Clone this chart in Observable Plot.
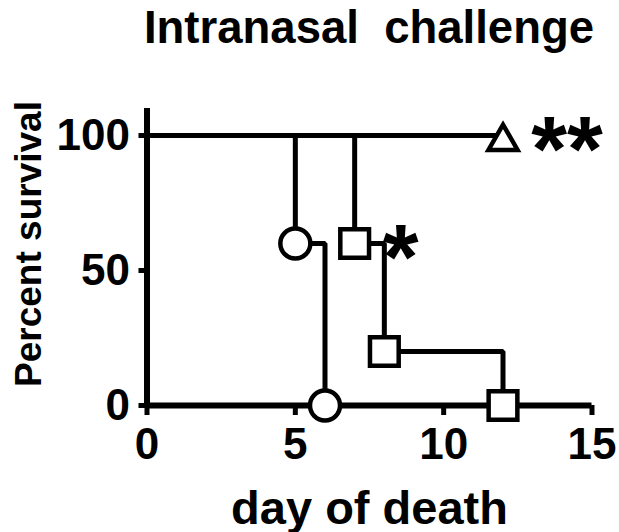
<!DOCTYPE html>
<html><head><meta charset="utf-8">
<script src="https://cdn.jsdelivr.net/npm/d3@7"></script>
<script src="https://cdn.jsdelivr.net/npm/@observablehq/plot@0.6"></script>
<style>
body{margin:0;background:#fff;}
#title{position:relative;height:90px;width:619px;font-family:"Liberation Sans",Arial,sans-serif;font-weight:bold;font-size:45.5px;color:#000;}
#title span{position:absolute;left:100px;width:538px;text-align:center;top:5px;line-height:45px;white-space:pre;}
</style></head><body>
<div id="title"><span id="tt"></span></div>
<div id="chart"></div>
<script>
const titleText = "Intranasal  challenge";
const xLabel = "day of death";
const yLabel = "Percent survival";
const xTicks = [0, 5, 10, 15];
const yTicks = [0, 50, 100];

// Kaplan-Meier steps (day, percent survival)
const circleDays = [0, 5, 6];
const circleSurv = [100, 60, 0];
const squareDays = [0, 7, 8, 12];
const squareSurv = [100, 60, 20, 0];
const triangleDays = [0, 12];
const triangleSurv = [100, 100];

// significance marks
const starText = ["**", "*"];
const starDay = [12.95, 7.95];
const starSurv = [100, 60];

document.getElementById("tt").textContent = titleText;

const toRows = (g, days, surv) => days.map((d, i) => ({group: g, day: d, surv: surv[i]}));
const circleRows = toRows("circle", circleDays, circleSurv);
const squareRows = toRows("square", squareDays, squareSurv);
const triangleRows = toRows("triangle", triangleDays, triangleSurv);
const allRows = [...circleRows, ...squareRows, ...triangleRows];
const stars = starText.map((t, i) => ({text: t, day: starDay[i], surv: starSurv[i]}));

const chart = Plot.plot({
  width: 619,
  height: 442,
  marginLeft: 146.5,
  marginRight: 27.5,
  marginTop: 18,
  marginBottom: 127,
  x: {domain: [0, 15]},
  y: {domain: [0, 110]},
  style: {fontFamily: "'Liberation Sans', Arial, sans-serif", fontWeight: "bold", fontSize: "44px", color: "#000", background: "#fff", overflow: "visible"},
  marks: [
    Plot.axisX(xTicks, {tickSize: 10, tickPadding: 12, strokeWidth: 5, label: null, fontSize: 44}),
    Plot.axisY(yTicks, {tickSize: 8, tickPadding: 9, strokeWidth: 5, label: null, fontSize: 44}),
    Plot.ruleX([0], {y1: 0, y2: 110, strokeWidth: 6, stroke: "black"}),
    Plot.ruleY([0], {x1: 0, x2: 15, strokeWidth: 6, stroke: "black"}),
    Plot.line(allRows, {x: "day", y: "surv", z: "group", curve: "step-after", stroke: "black", strokeWidth: 5, strokeLinejoin: "miter", strokeLinecap: "butt"}),
    Plot.dot(circleRows.filter(d => d.day > 0), {x: "day", y: "surv", symbol: "circle", r: 15, fill: "white", stroke: "black", strokeWidth: 4.5}),
    Plot.dot(squareRows.filter(d => d.day > 0), {x: "day", y: "surv", symbol: "square", r: 16.2, fill: "white", stroke: "black", strokeWidth: 4.5, strokeLinejoin: "miter"}),
    Plot.dot(triangleRows.filter(d => d.day > 0), {x: "day", y: "surv", symbol: "triangle", r: 10.8, dy: 6, fill: "white", stroke: "black", strokeWidth: 4.5, strokeLinejoin: "miter"}),
    Plot.text(stars, {x: "day", y: "surv", text: "text", textAnchor: "start", lineAnchor: "middle", dy: 16, fontSize: 92, fontWeight: "bold", fill: "black"}),
    Plot.text([xLabel], {text: d => d, frameAnchor: "bottom", textAnchor: "middle", lineAnchor: "middle", dy: 103, fontSize: 47, fontWeight: "bold", fill: "black"}),
    Plot.text([yLabel], {text: d => d, frameAnchor: "left", textAnchor: "middle", rotate: -90, lineAnchor: "middle", dx: -118.3, dy: -13, fontSize: 37, fontWeight: "bold", fill: "black"})
  ]
});
document.getElementById("chart").appendChild(chart);
</script>
</body></html>
